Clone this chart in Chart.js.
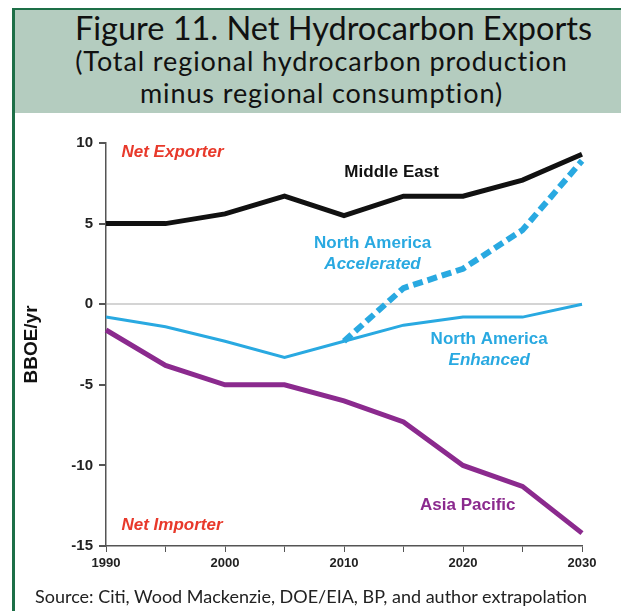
<!DOCTYPE html>
<html>
<head>
<meta charset="utf-8">
<script src="https://cdn.jsdelivr.net/npm/chart.js@4.4.1/dist/chart.umd.min.js"></script>
<style>
  body { margin: 0; background: #fff; }
  #page { position: relative; width: 621px; height: 611px; overflow: hidden; }
  #band {
    position: absolute; left: 14px; top: 8px; width: 607px; height: 105px;
    background: #b4ccbf; border-top: 2px solid #1d6f47; box-sizing: border-box;
  }
  #leftRule { position: absolute; left: 12px; top: 8px; width: 3px; height: 603px; background: #1d6f47; }
  .head { position: absolute; left: 14px; width: 607px; text-align: center; font-family: Lato, sans-serif; color: #111; white-space: nowrap; }
  #title { top: 8px; left: 30px; font-size: 32.5px; }
  #sub1 { top: 44px; left: 18px; font-size: 27px; letter-spacing: 0.9px; }
  #sub2 { top: 76px; left: 18px; font-size: 27px; letter-spacing: 0.9px; }
  #source { position: absolute; left: 35px; top: 585px; font-family: Lato, sans-serif; font-size: 18px; color: #222; white-space: nowrap; }
  canvas { position: absolute; left: 0; top: 0; }
</style>
</head>
<body>
<div id="page">
  <div id="band"></div>
  <div id="leftRule"></div>
  <div class="head" id="title">Figure 11. Net Hydrocarbon Exports</div>
  <div class="head" id="sub1">(Total regional hydrocarbon production</div>
  <div class="head" id="sub2">minus regional consumption)</div>
  <canvas id="chart" width="621" height="611"></canvas>
  <div id="source">Source: Citi, Wood Mackenzie, DOE/EIA, BP, and author extrapolation</div>
</div>
<script>
// years on the x axis (ticks every 5 years, labels every 10)
const years = [1990, 1995, 2000, 2005, 2010, 2015, 2020, 2025, 2030];

// net exports, BBOE/yr
const middleEast = [5.0, 5.0, 5.6, 6.7, 5.5, 6.7, 6.7, 7.7, 9.3];
const naEnhanced = [-0.8, -1.4, -2.3, -3.3, -2.3, -1.3, -0.8, -0.8, 0.0];
const naAccelerated = [null, null, null, null, -2.3, 1.0, 2.2, 4.6, 8.9];
const asiaPacific = [-1.6, -3.8, -5.0, -5.0, -6.0, -7.3, -10.0, -11.3, -14.2];

const yTicks = [10, 5, 0, -5, -10, -15];

// text labels placed on the plot, in data units
const notes = [
  { lines: ["Net Exporter"], x: 1991.3, y: 9.45, color: "#e8392b", italic: true, align: "left" },
  { lines: ["Middle East"], x: 2014.0, y: 8.2, color: "#111", italic: false, align: "center" },
  { lines: ["North America", "Accelerated"], x: 2012.4, y: 3.8, color: "#29a9e1", italic: false, align: "center" },
  { lines: ["North America", "Enhanced"], x: 2022.2, y: -2.2, color: "#29a9e1", italic: false, align: "center" },
  { lines: ["Asia Pacific"], x: 2020.4, y: -12.5, color: "#8b2a8e", italic: false, align: "center" },
  { lines: ["Net Importer"], x: 1991.3, y: -13.7, color: "#e8392b", italic: true, align: "left" }
];

const notesPlugin = {
  id: "notes",
  afterDatasetsDraw(chart) {
    const ctx = chart.ctx;
    const xs = chart.scales.x, ys = chart.scales.y;
    const x0 = xs.getPixelForValue(0), x1 = xs.getPixelForValue(years.length - 1);
    ctx.save();
    ctx.textBaseline = "middle";
    notes.forEach(n => {
      const px = x0 + (n.x - years[0]) / (years[years.length - 1] - years[0]) * (x1 - x0);
      const py = ys.getPixelForValue(n.y);
      ctx.fillStyle = n.color;
      ctx.textAlign = n.align;
      n.lines.forEach((line, i) => {
        // second line of the North America labels is italic
        const ital = n.italic || i === 1;
        ctx.font = (ital ? "italic " : "") + "bold 17px 'Liberation Sans', Arial, sans-serif";
        ctx.fillText(line, px, py + i * 21);
      });
    });
    ctx.restore();
  }
};

new Chart(document.getElementById("chart"), {
  type: "line",
  data: {
    labels: years,
    datasets: [
      { label: "North America Accelerated", data: naAccelerated, borderColor: "#29a9e1", borderWidth: 6, borderDash: [10, 5] },
      { label: "Middle East", data: middleEast, borderColor: "#111", borderWidth: 5 },
      { label: "North America Enhanced", data: naEnhanced, borderColor: "#29a9e1", borderWidth: 3 },
      { label: "Asia Pacific", data: asiaPacific, borderColor: "#8b2a8e", borderWidth: 5 }
    ]
  },
  options: {
    responsive: false,
    animation: false,
    elements: { point: { radius: 0 }, line: { tension: 0, borderCapStyle: "butt", borderJoinStyle: "miter" } },
    layout: { padding: { top: 143, right: 39, left: 0, bottom: 0 } },
    plugins: { legend: { display: false }, tooltip: { enabled: false } },
    scales: {
      x: {
        offset: false,
        border: { display: true, color: "#555", width: 1.5 },
        grid: { color: "transparent", tickColor: "#555", tickLength: 6, drawOnChartArea: false },
        ticks: {
          autoSkip: false, maxRotation: 0, padding: 4, color: "#222",
          font: { family: "'Liberation Sans', Arial, sans-serif", size: 13, weight: "bold" },
          callback: (v, i) => (years[i] % 10 === 0 ? String(years[i]) : "")
        },
        afterFit: s => { s.height = 65; }
      },
      y: {
        min: -15, max: 10,
        border: { display: true, color: "#555", width: 1.5 },
        grid: {
          color: c => (c.tick && c.tick.value === 0 ? "#d4d4d4" : "transparent"),
          lineWidth: 2, tickColor: "#555", tickLength: 7
        },
        afterBuildTicks: s => { s.ticks = yTicks.map(v => ({ value: v })); },
        ticks: {
          padding: 6, color: "#222",
          font: { family: "'Liberation Sans', Arial, sans-serif", size: 15, weight: "bold" }
        },
        title: {
          display: true, text: "BBOE/yr", color: "#111", padding: { top: 20, bottom: 0 },
          font: { family: "'Liberation Sans', Arial, sans-serif", size: 19, weight: "bold" }
        },
        afterFit: s => { s.width = 106; }
      }
    }
  },
  plugins: [notesPlugin]
});
</script>
</body>
</html>
